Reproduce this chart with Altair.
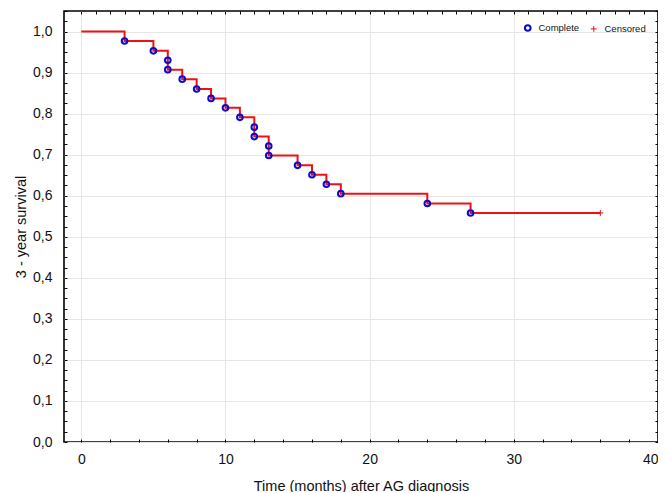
import altair as alt
import pandas as pd

# Kaplan-Meier step curve (time in months, survival proportion)
times = [0, 3, 5, 6, 6, 7, 8, 9, 10, 11, 12, 12, 13, 13, 15, 16, 17, 18, 24, 27, 36]
survival = [1.0, 0.977, 0.953, 0.930, 0.907, 0.884, 0.860, 0.837, 0.814, 0.791,
            0.767, 0.744, 0.721, 0.698, 0.674, 0.651, 0.628, 0.605, 0.581, 0.558, 0.558]

# Complete (event) points
event_times = [3, 5, 6, 6, 7, 8, 9, 10, 11, 12, 12, 13, 13, 15, 16, 17, 18, 24, 27]
event_surv = [0.977, 0.953, 0.930, 0.907, 0.884, 0.860, 0.837, 0.814, 0.791,
              0.767, 0.744, 0.721, 0.698, 0.674, 0.651, 0.628, 0.605, 0.581, 0.558]

# Censored points
censor_times = [36]
censor_surv = [0.558]

legend_labels = ["Complete", "Censored"]

x_ticks_bottom = list(range(0, 41, 2))
x_ticks_top = list(range(0, 41, 1))
y_ticks = [round(i * 0.025, 3) for i in range(43)]

line_df = pd.DataFrame({"time": times, "surv": survival, "idx": list(range(len(times)))})
pts_df = pd.DataFrame({
    "time": event_times + censor_times,
    "surv": event_surv + censor_surv,
    "type": ["Complete"] * len(event_times) + ["Censored"] * len(censor_times),
})

FONT = "Liberation Sans"
xscale = alt.Scale(domain=[-1.2, 40], nice=False, zero=False)
yscale = alt.Scale(domain=[0, 1.05], nice=False, zero=False)

ylab = "abs(datum.value*10 - round(datum.value*10)) < 0.001 ? replace(format(datum.value, '.1f'), '.', ',') : ''"
xlab = "datum.value % 10 == 0 ? format(datum.value, 'd') : ''"
ymajor = "abs(datum.value*10 - round(datum.value*10)) < 0.001"
xmajor = "datum.value % 10 == 0"

line = alt.Chart(line_df).mark_line(interpolate="step-after", color="#ee1111", strokeWidth=2).encode(
    x=alt.X("time:Q", scale=xscale, axis=alt.Axis(
        orient="bottom", values=x_ticks_bottom, labelExpr=xlab, title="Time (months) after AG diagnosis",
        offset=-3, tickSize=3, tickColor="#000", domain=False, labelOverlap=False, labelFlush=True,
        labelPadding=10, titlePadding=13, labelFontSize=14, titleFontSize=14.5,
        labelFont=FONT, titleFont=FONT, titleFontWeight="normal", labelColor="#111", titleColor="#111",
        grid=True, gridColor="#e6e6e6",
        gridOpacity={"condition": {"test": xmajor, "value": 1}, "value": 0})),
    y=alt.Y("surv:Q", scale=yscale, axis=alt.Axis(
        orient="left", values=y_ticks, labelExpr=ylab, title="3 - year survival",
        offset=-3, tickSize=3, tickColor="#000", domain=False, labelOverlap=False, labelFlush=False,
        labelPadding=12, titlePadding=4, labelFontSize=14, titleFontSize=14.5,
        labelFont=FONT, titleFont=FONT, titleFontWeight="normal", labelColor="#111", titleColor="#111",
        grid=True, gridColor="#e6e6e6",
        gridOpacity={"condition": {"test": ymajor, "value": 1}, "value": 0})),
    order="idx:Q",
)

leg = alt.Legend(title=None, orient="top-right", direction="horizontal",
                 labelFont=FONT, labelFontSize=9.5, labelColor="#111",
                 symbolSize=25, symbolStrokeWidth=1.5, columnPadding=8,
                 labelOffset=6, offset=12, padding=0)

points = alt.Chart(pts_df).mark_point(filled=False, opacity=1).encode(
    x=alt.X("time:Q", scale=xscale, axis=alt.Axis(
        orient="top", values=x_ticks_top, labels=False, title=None, offset=-3, tickSize=3,
        tickColor="#000", domain=False, grid=False)),
    y=alt.Y("surv:Q", scale=yscale, axis=alt.Axis(
        orient="right", values=y_ticks, labels=False, title=None, offset=-3, tickSize=3,
        tickColor="#000", domain=False, grid=False)),
    color=alt.Color("type:N", scale=alt.Scale(domain=legend_labels, range=["#0b0bd0", "#ee1111"]),
                    legend=leg),
    shape=alt.Shape("type:N", scale=alt.Scale(domain=legend_labels,
                                              range=["circle", "M-1.4,0L1.4,0M0,-1.4L0,1.4"]),
                    legend=leg),
    size=alt.Size("type:N", scale=alt.Scale(domain=legend_labels, range=[32, 18]), legend=None),
    strokeWidth=alt.StrokeWidth("type:N", scale=alt.Scale(domain=legend_labels, range=[2.0, 1.0]), legend=None),
)

chart = alt.layer(line, points).resolve_axis(x="independent", y="independent").properties(
    width=594, height=431,
    autosize=alt.AutoSizeParams(type="none"),
    padding={"left": 56, "top": 3, "right": 0, "bottom": 50},
    background="white",
).configure_view(stroke="#000", strokeWidth=1.6)

chart.save("out.html", embed_options={"renderer": "svg", "actions": False})
